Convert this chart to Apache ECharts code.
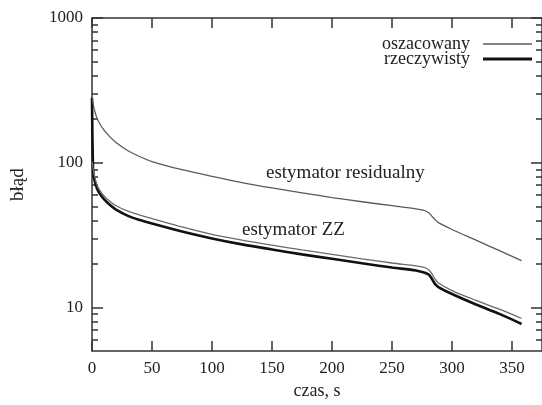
<!DOCTYPE html>
<html>
<head>
<meta charset="utf-8">
<script src="https://cdn.jsdelivr.net/npm/echarts@6/dist/echarts.min.js"></script>
<style>
  html, body { margin: 0; padding: 0; background: #fff; }
  #chart { width: 542px; height: 405px; }
</style>
</head>
<body>
<div id="chart"></div>
<script>
// time points (s) shared by the estimated curves
const czas = [0, 1, 2, 4, 6, 10, 15, 20, 30, 40, 50, 75, 100, 125, 150, 175, 200, 225, 250, 270, 276, 280, 282, 284, 286, 289, 300, 320, 340, 358];

// residual estimator, estimated error
const residualnyOszacowany = [290, 255, 232, 205, 189, 168, 151, 138, 121, 110, 102, 89.5, 80.5, 73, 67, 62, 57.5, 53.8, 50.5, 48, 47, 45.5, 44, 42, 40.3, 38.4, 34.6, 29.2, 24.6, 21.1];

// ZZ estimator, estimated error
const zzOszacowany = [102, 90, 82, 71, 65.5, 59, 54, 50.5, 46.3, 43.5, 41.2, 36, 32, 29.2, 27, 25, 23.3, 21.7, 20.3, 19.4, 19, 18.4, 17.7, 16.7, 15.7, 14.7, 13.1, 11.2, 9.7, 8.4];

// true error (with its steep start at t = 0)
const czasRzeczywisty = [0, 0.3, 0.7, 1, 2, 4, 6, 10, 15, 20, 30, 40, 50, 75, 100, 125, 150, 175, 200, 225, 250, 270, 276, 280, 282, 284, 286, 289, 300, 320, 340, 358];
const rzeczywisty = [280, 160, 105, 86, 76, 67, 62, 56, 51, 47.5, 43, 40.2, 38, 33.5, 30, 27.3, 25.2, 23.3, 21.7, 20.2, 18.9, 18, 17.5, 17, 16.4, 15.4, 14.5, 13.8, 12.4, 10.5, 9.0, 7.7];

// axis ticks and labels
const xTicks = [0, 50, 100, 150, 200, 250, 300, 350];
const yMajor = [10, 100, 1000];
const yMinor = [6, 7, 8, 9, 20, 30, 40, 50, 60, 70, 80, 90, 200, 300, 400, 500, 600, 700, 800, 900];

const pairs = (xs, ys) => xs.map((x, i) => [x, ys[i]]);

const serif = 'Liberation Serif';
const ink = '#222';
const axisColor = '#333';

function xAxisDef(pos, withLabels) {
  return {
    type: 'value', position: pos, min: 0, max: 375,
    axisLine: { onZero: false, lineStyle: { color: axisColor, width: 1.5 } },
    axisTick: { inside: true, length: 10, customValues: xTicks, lineStyle: { color: axisColor, width: 1.5 } },
    axisLabel: withLabels
      ? { customValues: xTicks, color: ink, fontFamily: serif, fontSize: 17, margin: 9 }
      : { show: false },
    splitLine: { show: false },
    name: withLabels ? 'czas, s' : '',
    nameLocation: 'middle', nameGap: 26,
    nameTextStyle: { color: ink, fontFamily: serif, fontSize: 18 }
  };
}

function yAxisDef(pos, ticks, len, showLine, withLabels) {
  return {
    type: 'log', logBase: 10, min: 5, max: 1000, position: pos,
    axisLine: { show: showLine, onZero: false, lineStyle: { color: axisColor, width: 1.5 } },
    axisTick: { inside: true, length: len, customValues: ticks, lineStyle: { color: axisColor, width: 1.5 } },
    axisLabel: withLabels
      ? { customValues: yMajor, formatter: v => String(Math.round(v)), color: ink, fontFamily: serif, fontSize: 17, margin: 9 }
      : { show: false },
    splitLine: { show: false },
    name: withLabels ? 'błąd' : '',
    nameLocation: 'middle', nameGap: 64, nameRotate: 90,
    nameTextStyle: { color: ink, fontFamily: serif, fontSize: 19 }
  };
}

const legendText = { color: ink, fontFamily: serif, fontSize: 18, padding: [0, 8, 0, 0] };

function curve(name, xs, ys, color, width, z) {
  return {
    name, type: 'line', symbol: 'none', smooth: 0.3,
    color, itemStyle: { color },
    lineStyle: { color, width },
    data: pairs(xs, ys), z
  };
}

const option = {
  backgroundColor: '#fff',
  animation: false,
  grid: { left: 92, top: 18, width: 454, height: 337 },
  xAxis: [xAxisDef('bottom', true), xAxisDef('top', false)],
  yAxis: [
    yAxisDef('left', yMajor, 11, true, true),
    yAxisDef('left', yMinor, 6, false, false),
    yAxisDef('right', yMajor, 11, true, false),
    yAxisDef('right', yMinor, 6, false, false)
  ],
  legend: [
    {
      data: [{ name: 'oszacowany', icon: 'path://M0,0H48V1.4H0Z' }],
      right: 10, top: 35, align: 'right', padding: 0,
      itemWidth: 49, itemHeight: 14, selectedMode: false, textStyle: legendText
    },
    {
      data: [{ name: 'rzeczywisty', icon: 'path://M0,0H48V3H0Z' }],
      right: 10, top: 50, align: 'right', padding: 0,
      itemWidth: 49, itemHeight: 14, selectedMode: false, textStyle: legendText
    }
  ],
  graphic: [
    { type: 'text', x: 266, y: 173, style: { text: 'estymator residualny', font: '19px "Liberation Serif"', fill: ink, verticalAlign: 'middle' } },
    { type: 'text', x: 242, y: 230, style: { text: 'estymator ZZ', font: '19px "Liberation Serif"', fill: ink, verticalAlign: 'middle' } }
  ],
  series: [
    curve('oszacowany', czas, residualnyOszacowany, '#5a5a5a', 1.3, 3),
    curve('rzeczywisty', czasRzeczywisty, rzeczywisty, '#111', 2.6, 2),
    curve('oszacowany', czas, zzOszacowany, '#6a6a6a', 1.3, 3)
  ]
};

const chart = echarts.init(document.getElementById('chart'), null, { renderer: 'canvas' });
chart.setOption(option);
</script>
</body>
</html>
